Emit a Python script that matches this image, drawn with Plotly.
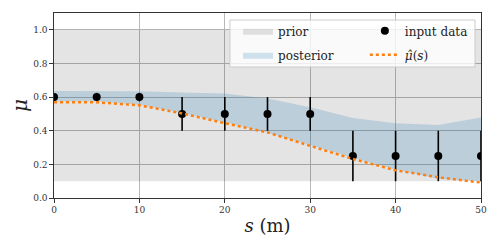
import plotly.graph_objects as go

s = [0, 5, 10, 15, 20, 25, 30, 35, 40, 45, 50]
data_mu = [0.6, 0.6, 0.6, 0.5, 0.5, 0.5, 0.5, 0.25, 0.25, 0.25, 0.25]
data_err = [0.025, 0.025, 0.025, 0.1, 0.1, 0.1, 0.1, 0.15, 0.15, 0.15, 0.15]
prior_lo = [0.1] * 11
prior_hi = [1.0] * 11
post_lo = [0.575, 0.575, 0.555, 0.505, 0.45, 0.39, 0.315, 0.24, 0.17, 0.115, 0.1]
post_hi = [0.636, 0.636, 0.634, 0.628, 0.622, 0.592, 0.54, 0.475, 0.444, 0.434, 0.479]
mu_hat = [0.569, 0.569, 0.551, 0.503, 0.445, 0.39, 0.31, 0.232, 0.165, 0.123, 0.092]

FONT = "DejaVu Serif"

fig = go.Figure()
fig.add_trace(go.Scatter(x=s, y=prior_lo, mode="lines", line=dict(width=0),
                         showlegend=False, hoverinfo="skip"))
fig.add_trace(go.Scatter(x=s, y=prior_hi, mode="lines", line=dict(width=0),
                         fill="tonexty", fillcolor="rgba(0,0,0,0.105)",
                         name="prior", legend="legend", legendgroup="a"))
fig.add_trace(go.Scatter(x=s, y=post_lo, mode="lines", line=dict(width=0),
                         showlegend=False, hoverinfo="skip"))
fig.add_trace(go.Scatter(x=s, y=post_hi, mode="lines", line=dict(width=0),
                         fill="tonexty", fillcolor="rgba(31,119,180,0.2)",
                         name="posterior", legend="legend", legendgroup="b"))
fig.add_trace(go.Scatter(x=s, y=data_mu, mode="markers",
                         marker=dict(color="black", size=8),
                         error_y=dict(type="data", array=data_err, color="black",
                                      thickness=1.6, width=0),
                         name="input data", legend="legend2", legendgroup="c"))
fig.add_trace(go.Scatter(x=s, y=mu_hat, mode="lines",
                         line=dict(color="#ff7f0e", width=2.5, dash="dot"),
                         name="<i>μ̂</i>(<i>s</i>)", legend="legend2", legendgroup="d"))

axis_common = dict(showgrid=True, gridcolor="#b8b8b8", gridwidth=1,
                   showline=True, linecolor="#333333", linewidth=1.2, mirror=True,
                   ticks="outside", ticklen=3.5, tickcolor="#333333", automargin=False,
                   zeroline=False, tickfont=dict(family=FONT, size=9, color="#333333"))

leg_font = dict(family=FONT, size=12, color="#222")

# the page body has an 8px margin, so the figure is sized to fit the window
fig.update_layout(
    width=490, height=241,
    margin=dict(l=46, r=17, t=5, b=51),
    plot_bgcolor="white", paper_bgcolor="white",
    xaxis=dict(range=[0, 50], tickvals=[0, 10, 20, 30, 40, 50], **axis_common,
               title=dict(text="<i>s</i> (m)", font=dict(family=FONT, size=18, color="#222"),
                          standoff=4)),
    yaxis=dict(range=[0, 1.1], tickvals=[0, 0.2, 0.4, 0.6, 0.8, 1.0],
               tickformat=".1f", **axis_common,
               title=dict(text="<i>μ</i>", font=dict(family=FONT, size=20, color="#222"),
                          standoff=10)),
    legend=dict(x=0.431, y=0.982, xanchor="left", yanchor="top", traceorder="grouped",
                bgcolor="rgba(0,0,0,0)", borderwidth=0,
                font=leg_font, tracegroupgap=5),
    legend2=dict(x=0.728, y=0.982, xanchor="left", yanchor="top", traceorder="grouped",
                 bgcolor="rgba(0,0,0,0)", borderwidth=0,
                 font=leg_font, tracegroupgap=5),
    shapes=[dict(type="rect", xref="paper", yref="paper",
                 x0=0.412, x1=0.986, y0=0.708, y1=0.962,
                 fillcolor="rgba(255,255,255,0.8)",
                 line=dict(color="#cccccc", width=1), layer="above")],
)

fig.write_html("out.html")
